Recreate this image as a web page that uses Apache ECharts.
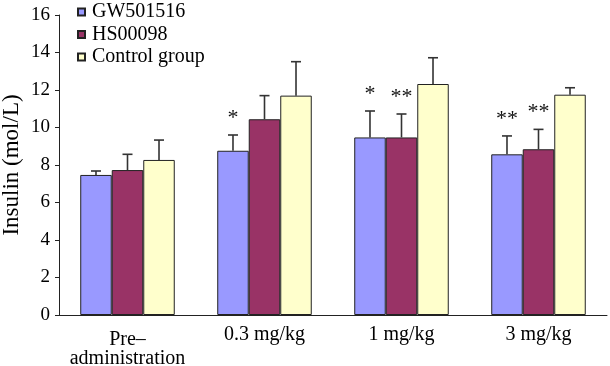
<!DOCTYPE html>
<html>
<head>
<meta charset="utf-8">
<script src="https://cdn.jsdelivr.net/npm/echarts@6/dist/echarts.min.js"></script>
<style>
  html, body { margin: 0; padding: 0; background: #fff; }
  #chart { width: 610px; height: 366px; }
</style>
</head>
<body>
<div id="chart"></div>
<script>
// Data
const categories = ['Pre–\nadministration', '0.3 mg/kg', '1 mg/kg', '3 mg/kg'];
const seriesNames = ['GW501516', 'HS00098', 'Control group'];
const gwValues = [7.47, 8.76, 9.47, 8.57];
const gwUpper = [7.68, 9.6, 10.88, 9.55];
const hsValues = [7.73, 10.44, 9.47, 8.84];
const hsUpper = [8.57, 11.7, 10.72, 9.9];
const ctrlValues = [8.27, 11.7, 12.32, 11.75];
const ctrlUpper = [9.33, 13.51, 13.72, 12.12];
const gwStars = ['', '*', '*', '**'];
const hsStars = ['', '', '**', '**'];
const ctrlStars = ['', '', '', ''];
const yTicks = [0, 16, 2];

const colors = ['#9999ff', '#993366', '#ffffcc'];
const BAR_FRAC = 0.23;
const FONT = "'Liberation Serif', serif";

const chart = echarts.init(document.getElementById('chart'));

// draw upper error bar + optional significance mark for bar number idx
function errorItem(idx) {
    return function (params, api) {
        const x = api.value(0);
        const base = api.coord([x, api.value(1)]);
        const top = api.coord([x, api.value(2)]);
        const band = api.size([1, 0])[0];
        const cx = base[0] + (idx - 1) * band * BAR_FRAC;
        const star = api.value(3);
        const children = [
            { type: 'line', shape: { x1: cx, y1: base[1], x2: cx, y2: top[1] },
              style: { stroke: '#333', lineWidth: 1.6 } },
            { type: 'line', shape: { x1: cx - 5, y1: top[1], x2: cx + 5, y2: top[1] },
              style: { stroke: '#333', lineWidth: 1.6 } }
        ];
        if (star) {
            children.push({
                type: 'text',
                style: {
                    x: cx, y: top[1] - 17, text: star,
                    font: '22px ' + FONT, fill: '#111',
                    align: 'center', verticalAlign: 'middle'
                }
            });
        }
        return { type: 'group', children: children };
    };
}

function barSeries(i, values) {
    return {
        name: seriesNames[i],
        type: 'bar',
        data: values,
        barWidth: (BAR_FRAC * 100) + '%',
        barGap: '0%',
        itemStyle: { color: colors[i], borderColor: '#222', borderWidth: 1 }
    };
}

function errSeries(i, values, upper, stars) {
    return {
        type: 'custom',
        renderItem: errorItem(i),
        data: values.map((v, k) => [k, v, upper[k], stars[k]]),
        z: 3,
        silent: true
    };
}

const option = {
    animation: false,
    grid: { left: 59, right: 3, top: 15, bottom: 51, outerBoundsMode: 'none', containLabel: false },
    legend: {
        data: seriesNames,
        orient: 'vertical',
        left: 77,
        top: 2,
        padding: 0,
        icon: 'rect',
        itemWidth: 7,
        itemHeight: 7,
        itemGap: 2.5,
        textStyle: { fontFamily: FONT, fontSize: 20, color: '#000', padding: [0, 0, 0, 2] }
    },
    xAxis: {
        type: 'category',
        data: categories.map((c, k) => k === 0
            ? { value: c, textStyle: { padding: [5, 0, 0, 0], lineHeight: 19 } }
            : c),
        axisLine: { lineStyle: { color: '#222', width: 1 } },
        axisTick: { inside: true, length: 4, lineStyle: { color: '#222' } },
        axisLabel: { interval: 0, fontFamily: FONT, fontSize: 20, color: '#000', margin: 10, lineHeight: 19 }
    },
    yAxis: {
        type: 'value',
        min: yTicks[0],
        max: yTicks[1],
        interval: yTicks[2],
        name: 'Insulin (mol/L)',
        nameLocation: 'middle',
        nameGap: 36,
        nameMoveOverlap: false,
        nameTextStyle: { fontFamily: FONT, fontSize: 23, color: '#000' },
        axisLine: { show: true, lineStyle: { color: '#222', width: 1 } },
        axisTick: { show: true, length: 4, lineStyle: { color: '#222' } },
        splitLine: { show: false },
        axisLabel: { fontFamily: FONT, fontSize: 19, color: '#000', margin: 9 }
    },
    series: [
        barSeries(0, gwValues),
        barSeries(1, hsValues),
        barSeries(2, ctrlValues),
        errSeries(0, gwValues, gwUpper, gwStars),
        errSeries(1, hsValues, hsUpper, hsStars),
        errSeries(2, ctrlValues, ctrlUpper, ctrlStars)
    ]
};

chart.setOption(option);
</script>
</body>
</html>
